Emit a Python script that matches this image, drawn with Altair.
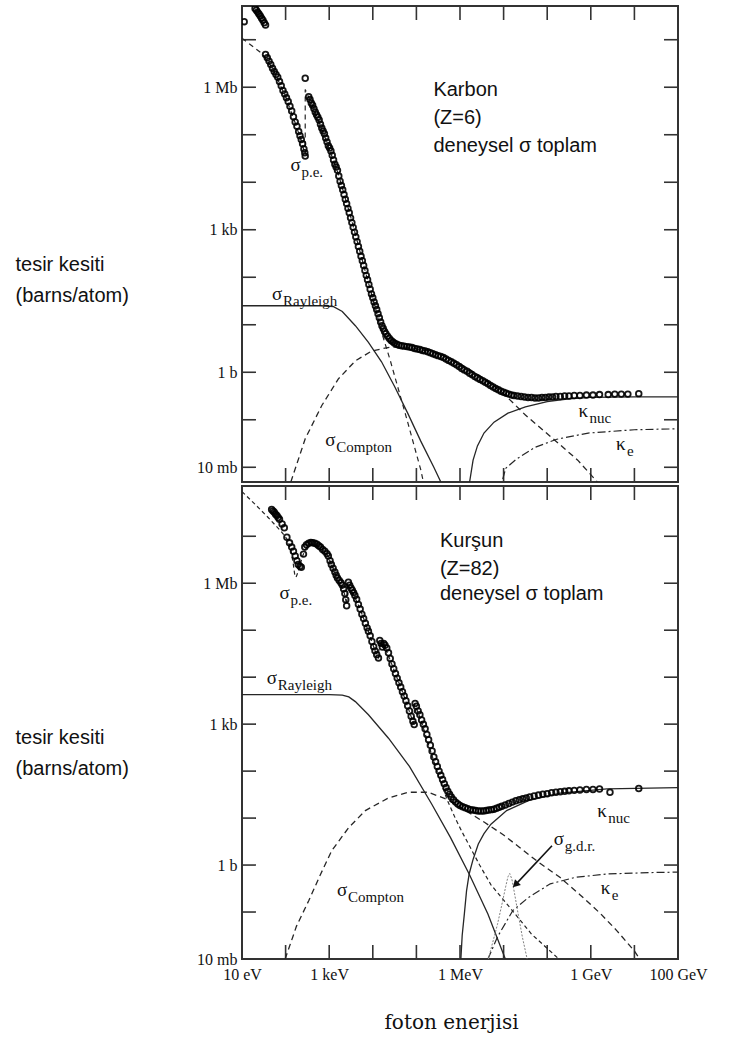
import altair as alt
import numpy as np
import pandas as pd

# ---------------- data: log10(E / eV), log10(sigma / barn) ----------------
# Carbon, measured total cross section (open circles)
c_tot_E = [1.05, 1.30, 1.33, 1.36, 1.39, 1.42, 1.45, 1.48, 1.51, 1.54,
           1.54, 1.58, 1.62, 1.66, 1.70, 1.74, 1.78, 1.82, 1.86, 1.90, 1.94, 1.98, 2.02, 2.06, 2.10,
           2.14, 2.18, 2.22, 2.26, 2.30, 2.33, 2.36, 2.39, 2.42, 2.44, 2.45,
           2.45,
           2.53, 2.56, 2.59, 2.62, 2.65, 2.68, 2.71, 2.74, 2.77, 2.80, 2.83, 2.86, 2.89, 2.92, 2.95,
           2.98, 3.01, 3.04, 3.07, 3.10, 3.13, 3.16, 3.19, 3.22, 3.25, 3.28, 3.31, 3.34, 3.37, 3.40,
           3.43, 3.46, 3.49, 3.52, 3.55, 3.58, 3.61, 3.64, 3.67, 3.70, 3.73, 3.76, 3.79, 3.82, 3.85,
           3.88, 3.91, 3.94, 3.97, 4.00, 4.03, 4.06, 4.09, 4.12, 4.15, 4.18, 4.21, 4.24, 4.27, 4.30,
           4.34, 4.38, 4.42, 4.46, 4.50, 4.55, 4.60, 4.66, 4.72, 4.78, 4.84, 4.90, 4.96, 5.02, 5.08,
           5.14, 5.20, 5.26, 5.32, 5.38, 5.44, 5.50, 5.56, 5.62, 5.68, 5.74, 5.80, 5.86, 5.92, 5.98,
           6.04, 6.10, 6.16, 6.22, 6.28, 6.34, 6.40, 6.46, 6.52, 6.58, 6.64, 6.70, 6.76, 6.82, 6.88,
           6.94, 7.00, 7.06, 7.12, 7.18, 7.24, 7.32, 7.40, 7.48, 7.56, 7.64, 7.72, 7.80, 7.88, 7.96,
           8.04, 8.12, 8.20, 8.30, 8.40, 8.50, 8.62, 8.75, 8.90, 9.05, 9.20, 9.40, 9.55, 9.70, 9.85,
           10.10]
c_tot_S = [7.38, 7.66, 7.62, 7.58, 7.54, 7.50, 7.45, 7.41, 7.36, 7.31,
           6.69, 6.62, 6.55, 6.48, 6.40, 6.33, 6.27, 6.21, 6.12, 6.03, 5.93, 5.86, 5.78, 5.70, 5.60,
           5.50, 5.38, 5.27, 5.18, 5.07, 4.98, 4.90, 4.81, 4.70, 4.62, 4.55,
           6.19,
           5.80, 5.74, 5.67, 5.62, 5.55, 5.48, 5.42, 5.37, 5.31, 5.22, 5.14, 5.08, 5.02, 4.93, 4.85,
           4.77, 4.72, 4.66, 4.57, 4.47, 4.38, 4.32, 4.25, 4.13, 4.02, 3.93, 3.84, 3.74, 3.64, 3.55,
           3.45, 3.36, 3.25, 3.15, 3.05, 2.95, 2.85, 2.75, 2.65, 2.55, 2.44, 2.35, 2.25, 2.14, 2.04,
           1.95, 1.85, 1.75, 1.65, 1.57, 1.48, 1.40, 1.32, 1.23, 1.15, 1.06, 0.98, 0.92, 0.86, 0.81,
           0.76, 0.71, 0.67, 0.64, 0.61, 0.59, 0.57, 0.56, 0.55, 0.54, 0.53, 0.52, 0.50, 0.49, 0.48,
           0.46, 0.45, 0.43, 0.41, 0.39, 0.37, 0.35, 0.33, 0.31, 0.28, 0.25, 0.22, 0.19, 0.16, 0.12,
           0.08, 0.05, 0.02, -0.02, -0.05, -0.09, -0.12, -0.15, -0.18, -0.21, -0.24, -0.28, -0.31, -0.34, -0.37,
           -0.40, -0.42, -0.44, -0.46, -0.48, -0.49, -0.50, -0.51, -0.52, -0.53, -0.53, -0.54, -0.54, -0.53, -0.53,
           -0.52, -0.52, -0.51, -0.51, -0.50, -0.50, -0.49, -0.49, -0.48, -0.48, -0.47, -0.47, -0.46, -0.46, -0.46,
           -0.45]

c_pe_E = [1.00, 1.46, 1.70, 2.00, 2.20, 2.35, 2.45, 2.45, 2.60, 2.90, 3.20, 3.50, 3.80, 4.00, 4.21,
          4.40, 4.60, 4.80, 5.00, 5.10, 5.16]
c_pe_S = [7.03, 6.71, 6.40, 5.80, 5.30, 4.90, 4.58, 5.95, 5.65, 4.95, 4.20, 3.25, 2.22, 1.55, 0.82,
          0.25, -0.40, -1.05, -1.72, -2.05, -2.31]

c_ray_E = [1.00, 2.80, 3.10, 3.30, 3.60, 3.90, 4.20, 4.50, 4.80, 5.10, 5.40, 5.56]
c_ray_S = [1.40, 1.40, 1.38, 1.28, 0.98, 0.63, 0.22, -0.30, -0.86, -1.45, -2.00, -2.31]

c_com_E = [2.12, 2.45, 2.83, 3.21, 3.60, 3.98, 4.40, 4.80, 5.20, 5.60, 6.00, 6.50, 7.00, 7.50, 8.20,
           8.70, 9.15]
c_com_S = [-2.31, -1.40, -0.70, -0.14, 0.24, 0.45, 0.53, 0.53, 0.46, 0.36, 0.18, -0.10, -0.45, -0.90, -1.45,
           -1.85, -2.31]

c_nuc_E = [6.22, 6.30, 6.40, 6.55, 6.78, 7.10, 7.50, 8.00, 8.50, 9.00, 10.00, 11.00]
c_nuc_S = [-2.31, -1.85, -1.55, -1.28, -1.05, -0.86, -0.73, -0.62, -0.56, -0.53, -0.52, -0.52]

c_ke_E = [6.98, 7.05, 7.29, 7.72, 8.22, 8.94, 10.00, 11.00]
c_ke_S = [-2.25, -2.02, -1.83, -1.58, -1.41, -1.28, -1.21, -1.19]

# Lead, measured total cross section (open circles)
p_tot_E = [1.68, 1.71, 1.74, 1.77, 1.80, 1.83, 1.86,
           1.92, 1.97, 2.03, 2.09, 2.14, 2.18, 2.22, 2.26, 2.29, 2.33, 2.36,
           2.41, 2.44, 2.48, 2.53, 2.58, 2.62, 2.67, 2.72, 2.76, 2.80, 2.85, 2.90, 2.95, 2.98, 3.02,
           3.05, 3.09, 3.13, 3.16, 3.19, 3.23, 3.27, 3.30, 3.33, 3.36, 3.38, 3.40,
           3.44, 3.47, 3.50, 3.53, 3.56, 3.59, 3.63, 3.67, 3.71, 3.75, 3.79, 3.83, 3.87, 3.90, 3.94,
           3.98, 4.02, 4.05, 4.09, 4.13,
           4.16, 4.19, 4.22, 4.25, 4.28, 4.32, 4.36, 4.40, 4.44, 4.48, 4.52, 4.56, 4.60, 4.64, 4.68,
           4.72, 4.76, 4.80, 4.84, 4.88, 4.92, 4.95,
           4.97, 5.00, 5.04, 5.08, 5.12, 5.16, 5.20, 5.24, 5.28, 5.32, 5.36, 5.40, 5.44, 5.48, 5.52,
           5.56, 5.60, 5.64, 5.68, 5.72, 5.76, 5.80, 5.85, 5.90, 5.95, 6.00, 6.06, 6.12, 6.18, 6.24,
           6.30, 6.36, 6.42, 6.48, 6.54, 6.60, 6.66, 6.72, 6.78, 6.84, 6.90, 6.96, 7.04, 7.12, 7.20,
           7.28, 7.36, 7.44, 7.52, 7.60, 7.70, 7.80, 7.90, 8.00, 8.10, 8.20, 8.30, 8.40, 8.50, 8.62,
           8.75, 8.90, 9.05, 9.20, 9.44, 10.10]
p_tot_S = [7.57, 7.54, 7.51, 7.47, 7.44, 7.40, 7.36,
           7.26, 7.18, 6.98, 6.86, 6.77, 6.68, 6.58, 6.48, 6.40, 6.36, 6.34,
           6.62, 6.77, 6.82, 6.85, 6.87, 6.86, 6.85, 6.83, 6.80, 6.77, 6.72, 6.68, 6.63, 6.58, 6.48,
           6.40, 6.32, 6.24, 6.17, 6.11, 6.06, 6.01, 5.96, 5.88, 5.78, 5.65, 5.52,
           6.02, 5.96, 5.90, 5.85, 5.80, 5.74, 5.66, 5.55, 5.45, 5.34, 5.25, 5.15, 5.05, 4.98, 4.88,
           4.76, 4.65, 4.56, 4.48, 4.41,
           4.78, 4.72, 4.64, 4.72, 4.68, 4.62, 4.52, 4.40, 4.28, 4.18, 4.08, 3.98, 3.88, 3.79, 3.69,
           3.60, 3.50, 3.39, 3.28, 3.17, 3.06, 2.99,
           3.44, 3.38, 3.28, 3.20, 3.09, 3.00, 2.90, 2.78, 2.67, 2.55, 2.43, 2.30, 2.20, 2.10, 2.00,
           1.91, 1.82, 1.73, 1.65, 1.57, 1.51, 1.45, 1.39, 1.34, 1.30, 1.27, 1.24, 1.22, 1.20, 1.18,
           1.17, 1.16, 1.15, 1.15, 1.15, 1.16, 1.17, 1.18, 1.19, 1.21, 1.23, 1.25, 1.28, 1.31, 1.34,
           1.37, 1.39, 1.41, 1.43, 1.45, 1.47, 1.49, 1.51, 1.52, 1.54, 1.55, 1.56, 1.57, 1.58, 1.59,
           1.60, 1.61, 1.61, 1.62, 1.55, 1.63]

p_pe_E = [1.00, 1.30, 1.60, 1.90, 2.05, 2.12, 2.17, 2.21, 2.24, 2.27, 2.32, 2.38, 2.45, 2.55, 2.65,
          2.80, 2.95, 3.05, 3.20, 3.35, 3.40, 3.42, 3.55, 3.70, 3.90, 4.05, 4.13, 4.15, 4.30, 4.50,
          4.70, 4.94, 4.96, 5.10, 5.30, 5.50, 5.70, 5.90, 6.05, 6.21, 6.45, 6.71, 7.21, 7.64, 8.22,
          8.26]
p_pe_S = [7.95, 7.68, 7.40, 7.10, 6.92, 6.70, 6.45, 6.18, 6.13, 6.20, 6.35, 6.55, 6.72, 6.82, 6.84,
          6.76, 6.62, 6.40, 6.08, 5.78, 5.55, 5.98, 5.78, 5.47, 4.98, 4.56, 4.40, 4.75, 4.60, 4.12,
          3.64, 3.00, 3.43, 3.10, 2.50, 1.92, 1.40, 0.98, 0.70, 0.42, 0.00, -0.42, -0.98, -1.47, -1.96,
          -2.00]

p_ray_E = [1.00, 3.00, 3.30, 3.45, 3.60, 3.90, 4.36, 4.84, 5.35, 5.78, 6.21, 6.64, 7.04]
p_ray_S = [3.63, 3.63, 3.62, 3.58, 3.48, 3.20, 2.70, 2.10, 1.30, 0.59, -0.19, -1.04, -2.00]

p_com_E = [1.99, 2.25, 2.53, 2.80, 3.06, 3.45, 3.83, 4.34, 4.80, 5.27, 5.70, 6.10, 6.56, 7.00, 7.36,
           7.80, 8.29, 8.75, 9.23, 9.60, 10.00, 10.12]
p_com_S = [-2.00, -1.30, -0.76, -0.20, 0.31, 0.80, 1.16, 1.42, 1.55, 1.55, 1.40, 1.18, 0.91, 0.64, 0.38,
           0.06, -0.26, -0.63, -1.04, -1.40, -1.83, -2.00]

p_nuc_E = [6.02, 6.05, 6.10, 6.15, 6.21, 6.30, 6.42, 6.55, 6.71, 7.07, 7.57, 8.29, 9.37, 11.00]
p_nuc_S = [-2.00, -1.50, -1.04, -0.55, -0.19, 0.12, 0.45, 0.67, 0.87, 1.16, 1.37, 1.53, 1.62, 1.65]

p_ke_E = [6.64, 6.86, 7.21, 7.57, 8.07, 8.65, 9.37, 10.37, 11.00]
p_ke_S = [-2.00, -1.53, -0.97, -0.69, -0.40, -0.26, -0.19, -0.16, -0.15]

p_gdr_E = [6.65, 6.86, 6.97, 7.05, 7.10, 7.14, 7.19, 7.25, 7.32, 7.43, 7.54]
p_gdr_S = [-2.00, -1.26, -0.80, -0.45, -0.25, -0.18, -0.30, -0.60, -0.97, -1.53, -2.00]

p_arrow_E = [8.11, 7.29]
p_arrow_S = [0.41, -0.40]

# curve labels: symbol, subscript, position (log10 E, log10 sigma)
c_lab_sym = ["σ", "σ", "σ", "κ", "κ"]
c_lab_sub = ["p.e.", "Rayleigh", "Compton", "nuc", "e"]
c_lab_E = [2.11, 1.69, 2.91, 8.72, 9.58]
c_lab_S = [4.37, 1.64, -1.43, -0.81, -1.51]

p_lab_sym = ["σ", "σ", "σ", "κ", "κ", "σ"]
p_lab_sub = ["p.e.", "Rayleigh", "Compton", "nuc", "e", "g.d.r."]
p_lab_E = [1.86, 1.57, 3.18, 9.15, 9.23, 8.15]
p_lab_S = [5.80, 3.99, -0.54, 1.16, -0.48, 0.55]

c_note_txt = ["Karbon", "(Z=6)", "deneysel σ toplam"]
c_note_E = [5.39, 5.39, 5.39]
c_note_S = [5.94, 5.35, 4.76]
p_note_txt = ["Kurşun", "(Z=82)", "deneysel σ toplam"]
p_note_E = [5.54, 5.54, 5.54]
p_note_S = [6.90, 6.30, 5.77]

x_label_exp = [1, 3, 6, 9, 11]
x_label_txt = ["10 eV", "1 keV", "1 MeV", "1 GeV", "100 GeV"]
y_label_exp = [-2, 0, 3, 6]
y_label_txt = ["10 mb", "1 b", "1 kb", "1 Mb"]

# ---------------- helpers ----------------
W = 436
LEFT = 227          # distance from y-title start to plot's left edge
SERIF = "Liberation Serif"
SANS = "Liberation Sans"
INK = "#111111"
LINE = "#262626"


def mk(logE, logS):
    return pd.DataFrame({"E": np.power(10.0, np.array(logE, dtype=float)),
                         "S": np.power(10.0, np.array(logS, dtype=float)),
                         "i": np.arange(len(logE))})


def lab_expr(exps, txts):
    s = "''"
    for e, t in zip(exps, txts):
        s = f"(round(log(datum.value)/LN10)=={e}) ? '{t}' : " + s
    return s


def panel(H, ylo, yhi, ytick_exp, curves, pts, labs, notes, show_x, ytitle_y, extra=None):
    xs = alt.Scale(type="log", domain=[10, 1e11], nice=False)
    ys = alt.Scale(type="log", domain=[10 ** ylo, 10 ** yhi], nice=False)
    if show_x:
        xax = alt.Axis(values=[10.0 ** e for e in x_label_exp],
                       labelExpr=lab_expr(x_label_exp, x_label_txt),
                       ticks=False, domain=False, grid=False,
                       labelFont=SERIF, labelFontSize=16, labelColor=INK, labelPadding=7,
                       labelFlush=False, labelOverlap=False,
                       title="foton enerjisi", titleFont="DejaVu Serif", titleFontSize=20,
                       titleFontWeight="normal", titleColor=INK,
                       titleX=209, titleY=69, titleAlign="center", titleBaseline="alphabetic")
    else:
        xax = None
    yax = alt.Axis(values=[10.0 ** e for e in y_label_exp],
                   labelExpr=lab_expr(y_label_exp, y_label_txt),
                   ticks=False, domain=False, grid=False,
                   labelFont=SERIF, labelFontSize=16, labelColor=INK, labelPadding=5,
                   labelOverlap=False,
                   title=["tesir kesiti", "(barns/atom)"], titleAngle=0, titleAlign="left",
                   titleBaseline="alphabetic", titleX=-LEFT, titleY=ytitle_y,
                   titleFont=SANS, titleFontSize=20, titleFontWeight="normal",
                   titleLineHeight=31, titleColor=INK)

    def X(f):
        return alt.X(f, type="quantitative", scale=xs, axis=xax)

    def Y(f):
        return alt.Y(f, type="quantitative", scale=ys, axis=yax)

    dxt = pd.DataFrame({"v": [10.0 ** k for k in range(1, 12)]})
    dyt = pd.DataFrame({"v": [10.0 ** k for k in ytick_exp]})
    tk = dict(color="#333", strokeWidth=1.6)
    layers = [
        alt.Chart(dxt).mark_rule(**tk).encode(x=X("v"), y=alt.value(0), y2=alt.value(14)),
        alt.Chart(dxt).mark_rule(**tk).encode(x=X("v"), y=alt.value(H), y2=alt.value(H - 14)),
        alt.Chart(dyt).mark_rule(**tk).encode(y=Y("v"), x=alt.value(0), x2=alt.value(14)),
        alt.Chart(dyt).mark_rule(**tk).encode(y=Y("v"), x=alt.value(W), x2=alt.value(W - 14)),
    ]
    for df, dash, color, sw in curves:
        kw = dict(clip=True, color=color, strokeWidth=sw)
        if dash:
            kw["strokeDash"] = dash
        layers.append(alt.Chart(df).mark_line(**kw).encode(x=X("E"), y=Y("S"), order=alt.Order("i:Q")))
    if extra is not None:
        adf = extra
        layers.append(alt.Chart(adf).mark_line(color=INK, strokeWidth=1.6)
                      .encode(x=X("E"), y=Y("S"), order=alt.Order("i:Q")))
        layers.append(alt.Chart(adf.tail(1)).mark_point(shape="triangle", angle=225, filled=True,
                                                       size=70, color=INK, opacity=1)
                      .encode(x=X("E"), y=Y("S")))
    layers.append(alt.Chart(pts).mark_point(shape="circle", filled=False, size=32, strokeWidth=1.8,
                                            color="#000000", opacity=0.9, clip=True)
                  .encode(x=X("E"), y=Y("S")))
    layers.append(alt.Chart(labs).mark_text(align="left", baseline="middle", font=SERIF,
                                            fontSize=19, color=INK)
                  .encode(x=X("E"), y=Y("S"), text="sym:N"))
    layers.append(alt.Chart(labs).mark_text(align="left", baseline="middle", font=SERIF,
                                            fontSize=15, color=INK, dx=11, dy=7)
                  .encode(x=X("E"), y=Y("S"), text="sub:N"))
    layers.append(alt.Chart(notes).mark_text(align="left", baseline="middle", font=SANS,
                                             fontSize=20, color=INK)
                  .encode(x=X("E"), y=Y("S"), text="txt:N"))
    return alt.layer(*layers).properties(width=W, height=H)


def labdf(sym, sub, E, S):
    d = mk(E, S)
    d["sym"] = sym
    d["sub"] = sub
    return d


def notedf(txt, E, S):
    d = mk(E, S)
    d["txt"] = txt
    return d


DASH = [6, 4]
DASHDOT = [8, 3, 2, 3]

c_curves = [
    (mk(c_ray_E, c_ray_S), None, LINE, 1.3),
    (mk(c_com_E, c_com_S), DASH, LINE, 1.3),
    (mk(c_pe_E, c_pe_S), [5, 4], LINE, 1.2),
    (mk(c_nuc_E, c_nuc_S), None, LINE, 1.3),
    (mk(c_ke_E, c_ke_S), DASHDOT, LINE, 1.2),
]
p_curves = [
    (mk(p_ray_E, p_ray_S), None, LINE, 1.3),
    (mk(p_com_E, p_com_S), DASH, LINE, 1.3),
    (mk(p_pe_E, p_pe_S), [4, 3], LINE, 1.2),
    (mk(p_nuc_E, p_nuc_S), None, LINE, 1.3),
    (mk(p_ke_E, p_ke_S), DASHDOT, LINE, 1.2),
    (mk(p_gdr_E, p_gdr_S), [2, 1.5], "#808080", 1.0),
]

top = panel(476, -2.31, 7.71, list(range(-2, 8)), c_curves, mk(c_tot_E, c_tot_S),
            labdf(c_lab_sym, c_lab_sub, c_lab_E, c_lab_S),
            notedf(c_note_txt, c_note_E, c_note_S), False, 264)
bot = panel(473, -2.0, 8.07, list(range(-2, 8)), p_curves, mk(p_tot_E, p_tot_S),
            labdf(p_lab_sym, p_lab_sub, p_lab_E, p_lab_S),
            notedf(p_note_txt, p_note_E, p_note_S), True, 257,
            extra=mk(p_arrow_E, p_arrow_S))

chart = (alt.vconcat(top, bot, spacing=0)
         .properties(padding={"left": 14, "top": 4, "right": 0, "bottom": 0}, background="white")
         .configure_view(stroke="#333", strokeWidth=2))

chart.save("out.html", embed_options={"renderer": "svg", "actions": False})
